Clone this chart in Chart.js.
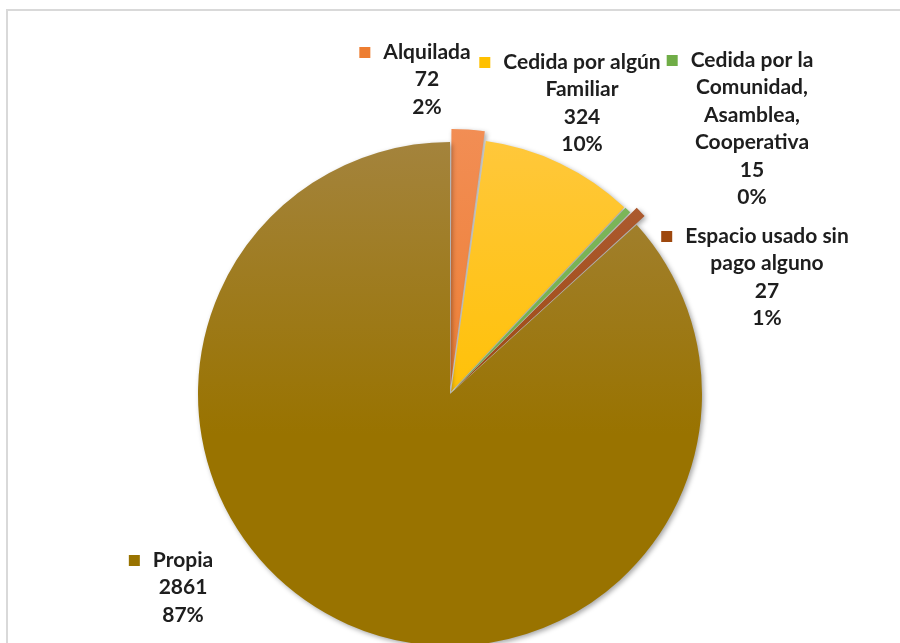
<!DOCTYPE html>
<html>
<head>
<meta charset="utf-8">
<title>Tenencia</title>
<script src="https://cdn.jsdelivr.net/npm/chart.js@4.4.1/dist/chart.umd.min.js"></script>
<style>
  html, body { margin: 0; padding: 0; background: #fff; }
  #wrap { position: relative; width: 900px; height: 643px; overflow: hidden; }
  #marco { position: absolute; left: 6px; top: 9px; width: 1000px; height: 1000px; border: 2px solid #d9d9d9; }
  #grafico { position: absolute; left: 0; top: 0; }
</style>
</head>
<body>
<div id="wrap">
  <div id="marco"></div>
  <canvas id="grafico" width="900" height="643"></canvas>
</div>
<script>
// datos del gráfico
const categorias = [
  'Alquilada',
  'Cedida por algún Familiar',
  'Cedida por la Comunidad, Asamblea, Cooperativa',
  'Espacio usado sin pago alguno',
  'Propia'
];
const valores = [72, 324, 15, 27, 2861];
// cómo se parte cada nombre en la etiqueta
const lineasNombre = [
  ['Alquilada'],
  ['Cedida por algún', 'Familiar'],
  ['Cedida por la', 'Comunidad,', 'Asamblea,', 'Cooperativa'],
  ['Espacio usado sin', 'pago alguno'],
  ['Propia']
];

// colores (base y tono más claro arriba)
const coloresBase = ['#ED7D31', '#FFC000', '#70AD47', '#9E480E', '#997300'];
const coloresClaros = ['#F28E55', '#FFC83E', '#80B860', '#B0603A', '#A4843F'];
const separacion = [28, 10, 8, 24, 0];

// posición de cada etiqueta (centro del texto, y de la primera línea)
const posEtiquetas = [
  { x: 427, y: 52 },
  { x: 582, y: 62 },
  { x: 752, y: 60 },
  { x: 767, y: 236 },
  { x: 183, y: 560 }
];

const total = valores.reduce((a, b) => a + b, 0);

function relleno(ctx) {
  const chart = ctx.chart;
  const i = ctx.dataIndex;
  const area = chart.chartArea;
  if (!area || i === undefined) return coloresBase[i] || '#999';
  const cy = (area.top + area.bottom) / 2;
  const g = chart.ctx.createLinearGradient(0, cy - 265, 0, cy + 40);
  g.addColorStop(0, coloresClaros[i]);
  g.addColorStop(1, coloresBase[i]);
  return g;
}

// sombra suave bajo las porciones
const sombra = {
  id: 'sombra',
  beforeDatasetsDraw(chart) {
    const c = chart.ctx;
    c.save();
    c.shadowColor = 'rgba(0,0,0,0.35)';
    c.shadowBlur = 5;
    c.shadowOffsetX = 2;
    c.shadowOffsetY = 2;
  },
  afterDatasetsDraw(chart) {
    chart.ctx.restore();
  }
};

// etiquetas con nombre, valor y porcentaje
const etiquetas = {
  id: 'etiquetas',
  afterDraw(chart) {
    const c = chart.ctx;
    c.save();
    c.font = 'bold 21px Lato';
    c.fillStyle = '#1e1e1e';
    c.textAlign = 'center';
    c.textBaseline = 'middle';
    const paso = 27.5;
    valores.forEach((v, i) => {
      const p = posEtiquetas[i];
      const lineas = lineasNombre[i].concat([String(v), Math.round(v / total * 100) + '%']);
      lineas.forEach((t, k) => c.fillText(t, p.x, p.y + k * paso));
      const ancho = c.measureText(lineas[0]).width;
      const izq = p.x - ancho / 2;
      c.fillStyle = coloresBase[i];
      c.fillRect(izq - 24, p.y - 5, 11, 11);
      c.fillStyle = '#1e1e1e';
    });
    c.restore();
  }
};

new Chart(document.getElementById('grafico'), {
  type: 'pie',
  data: {
    labels: categorias,
    datasets: [{
      data: valores,
      backgroundColor: relleno,
      borderWidth: 0,
      offset: separacion,
      clip: false
    }]
  },
  options: {
    responsive: false,
    animation: false,
    radius: 252,
    layout: { padding: { top: 145, bottom: 0, left: 0, right: 0 } },
    plugins: {
      legend: { display: false },
      tooltip: { enabled: false }
    }
  },
  plugins: [sombra, etiquetas]
});
</script>
</body>
</html>
